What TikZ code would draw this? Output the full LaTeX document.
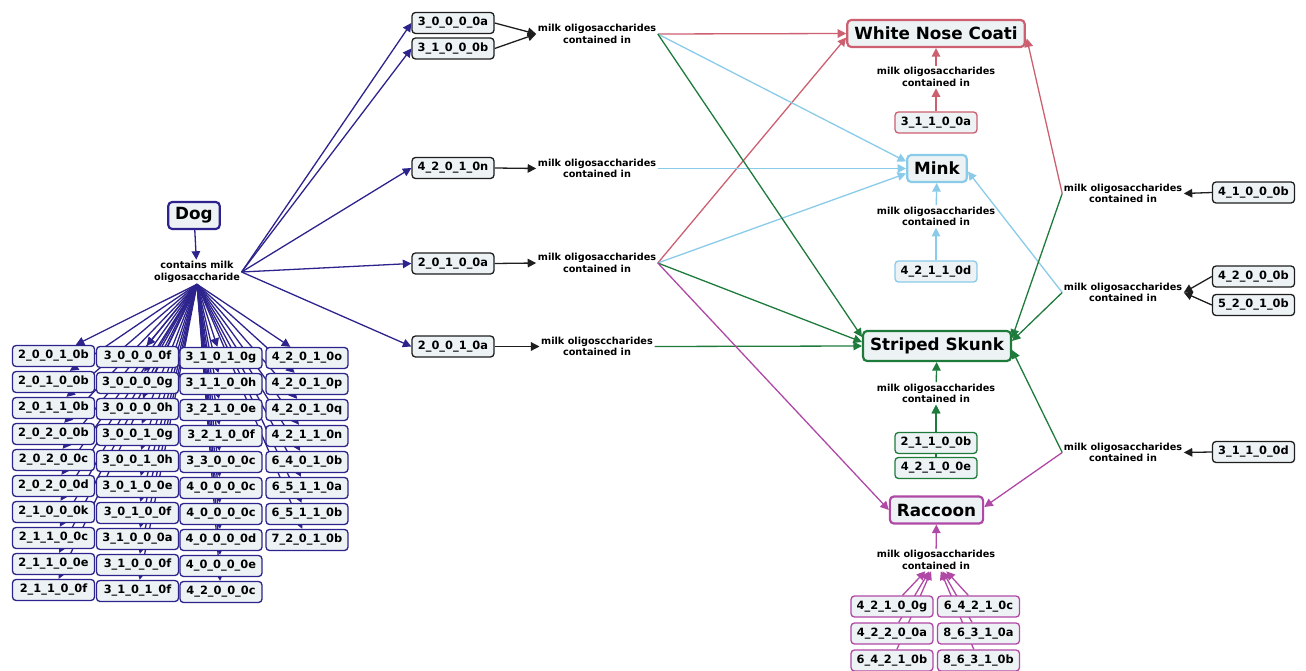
\documentclass[tikz,border=0pt]{standalone}
\usepackage{fontspec}
\setmainfont{DejaVu Sans}
\usetikzlibrary{arrows.meta,backgrounds,calc}
\definecolor{dogc}{RGB}{45,35,140}
\definecolor{pinkc}{RGB}{205,96,112}
\definecolor{bluec}{RGB}{138,203,234}
\definecolor{greenc}{RGB}{30,123,60}
\definecolor{purpc}{RGB}{176,72,165}
\definecolor{nodefill}{RGB}{237,242,244}
\definecolor{darkc}{RGB}{30,30,30}
\begin{document}
\begin{tikzpicture}[x=1pt,y=-1pt,
  box/.style={draw, rounded corners=3.5pt, fill=nodefill, line width=1.3pt, minimum width=82pt, minimum height=21pt, inner sep=0pt, font=\bfseries\fontsize{11.4}{12}\selectfont},
  lbl/.style={font=\bfseries\fontsize{9.7}{11.7}\selectfont, align=center, inner sep=1.5pt},
  animal/.style={draw, rounded corners=4pt, fill=nodefill, line width=2.2pt, inner xsep=7pt, inner ysep=0pt, minimum height=27pt, font=\bfseries\fontsize{16.8}{18}\selectfont},
  arr/.style={-{Triangle[length=8.5pt,width=8.5pt]}, line width=1.3pt}]
\useasboundingbox (0,0) rectangle (1306,671);

% Dog part
\node[animal, draw=dogc] (dog) at (194,215.5) {Dog};
\node[lbl] (contains) at (197,272) {contains milk\\oligosaccharide};

\foreach \t [count=\i] in {2\_0\_0\_1\_0b,2\_0\_1\_0\_0b,2\_0\_1\_1\_0b,2\_0\_2\_0\_0b,2\_0\_2\_0\_0c,2\_0\_2\_0\_0d,2\_1\_0\_0\_0k,2\_1\_1\_0\_0c,2\_1\_1\_0\_0e,2\_1\_1\_0\_0f}
  \node[box, draw=dogc] (a\i) at (53.5,{356+26*(\i-1)}) {\t};
\foreach \t [count=\i] in {3\_0\_0\_0\_0f,3\_0\_0\_0\_0g,3\_0\_0\_0\_0h,3\_0\_0\_1\_0g,3\_0\_0\_1\_0h,3\_0\_1\_0\_0e,3\_0\_1\_0\_0f,3\_1\_0\_0\_0a,3\_1\_0\_0\_0f,3\_1\_0\_1\_0f}
  \node[box, draw=dogc] (b\i) at (137.5,{357+26*(\i-1)}) {\t};
\foreach \t [count=\i] in {3\_1\_0\_1\_0g,3\_1\_1\_0\_0h,3\_2\_1\_0\_0e,3\_2\_1\_0\_0f,3\_3\_0\_0\_0c,4\_0\_0\_0\_0c,4\_0\_0\_0\_0c,4\_0\_0\_0\_0d,4\_0\_0\_0\_0e,4\_2\_0\_0\_0c}
  \node[box, draw=dogc] (c\i) at (221,{358+26*(\i-1)}) {\t};
\foreach \t [count=\i] in {4\_2\_0\_1\_0o,4\_2\_0\_1\_0p,4\_2\_0\_1\_0q,4\_2\_1\_1\_0n,6\_4\_0\_1\_0b,6\_5\_1\_1\_0a,6\_5\_1\_1\_0b,7\_2\_0\_1\_0b}
  \node[box, draw=dogc] (d\i) at (307,{358+26*(\i-1)}) {\t};

% middle column
\node[box, draw=darkc] (m1) at (453,23) {3\_0\_0\_0\_0a};
\node[box, draw=darkc] (m2) at (453,48.5) {3\_1\_0\_0\_0b};
\node[box, draw=darkc] (m3) at (453,168) {4\_2\_0\_1\_0n};
\node[box, draw=darkc] (m4) at (453,263.5) {2\_0\_1\_0\_0a};
\node[box, draw=darkc] (m5) at (453,346.5) {2\_0\_0\_1\_0a};
\node[lbl] (L1) at (597,34) {milk oligosaccharides\\contained in};
\node[lbl] (L2) at (597,168.5) {milk oligosaccharides\\contained in};
\node[lbl] (L3) at (597,263) {milk oligosaccharides\\contained in};
\node[lbl] (L4) at (597,346.5) {milk oligosccharides\\contained in};

% animals
\node[animal, draw=pinkc] (wnc) at (936,33.5) {White Nose Coati};
\node[animal, draw=bluec] (mink) at (937,168.5) {Mink};
\node[animal, draw=greenc, minimum height=30pt] (skunk) at (937,346) {Striped Skunk};
\node[animal, draw=purpc] (racc) at (936.5,510) {Raccoon};

\node[lbl] (wl) at (936,77) {milk oligosaccharides\\contained in};
\node[lbl] (ml) at (936,216.5) {milk oligosaccharides\\contained in};
\node[lbl] (sl) at (936,393.5) {milk oligosaccharides\\contained in};
\node[lbl] (rl) at (936,560) {milk oligosaccharides\\contained in};

\node[box, draw=pinkc] (w1) at (936,122.5) {3\_1\_1\_0\_0a};
\node[box, draw=bluec] (k1) at (936,271.5) {4\_2\_1\_1\_0d};
\node[box, draw=greenc] (s1) at (936,443) {2\_1\_1\_0\_0b};
\node[box, draw=greenc] (s2) at (936,468) {4\_2\_1\_0\_0e};
\node[box, draw=purpc] (r1) at (892,606.5) {4\_2\_1\_0\_0g};
\node[box, draw=purpc] (r2) at (892,633.5) {4\_2\_2\_0\_0a};
\node[box, draw=purpc] (r3) at (892,660.5) {6\_4\_2\_1\_0b};
\node[box, draw=purpc] (r4) at (978.5,606.5) {6\_4\_2\_1\_0c};
\node[box, draw=purpc] (r5) at (978.5,633.5) {8\_6\_3\_1\_0a};
\node[box, draw=purpc] (r6) at (978.5,660.5) {8\_6\_3\_1\_0b};

% right side
\node[lbl] (R1) at (1123,193.5) {milk oligosaccharides\\contained in};
\node[lbl] (R2) at (1123,292.5) {milk oligosaccharides\\contained in};
\node[lbl] (R3) at (1123,452.5) {milk oligosaccharides\\contained in};
\node[box, draw=darkc] (n1) at (1253.5,192.5) {4\_1\_0\_0\_0b};
\node[box, draw=darkc] (n2) at (1253.5,276.5) {4\_2\_0\_0\_0b};
\node[box, draw=darkc] (n3) at (1253.5,305) {5\_2\_0\_1\_0b};
\node[box, draw=darkc] (n4) at (1253.5,452) {3\_1\_1\_0\_0d};

\begin{pgfonlayer}{background}
  \draw[arr, dogc] (dog) -- (contains);
  \foreach \n in {a1,a2,a3,a4,a5,a6,a7,a8,a9,a10,b1,b2,b3,b4,b5,b6,b7,b8,b9,b10,c1,c2,c3,c4,c5,c6,c7,c8,c9,c10,d1,d2,d3,d4,d5,d6,d7,d8}
    \draw[arr, dogc] (contains.south) -- (\n);
  \foreach \n in {m1,m2,m3,m4,m5}
    \draw[arr, dogc] (contains.east) -- (\n.west);
  \draw[arr, darkc] (m1.east) -- (L1.west);
  \draw[arr, darkc] (m2.east) -- (L1.west);
  \draw[arr, darkc] (m3.east) -- (L2.west);
  \draw[arr, darkc] (m4.east) -- (L3.west);
  \draw[arr, darkc] (m5.east) -- (L4.west);
  % pink
  \draw[arr, pinkc] (L1.east) -- (wnc.west);
  \draw[arr, pinkc] (L3.east) -- ($(wnc.west)+(0,4)$);
  \draw[arr, pinkc] (R1.west) -- ($(wnc.east)+(1,5)$);
  \draw[arr, pinkc] (w1) -- (wl);
  \draw[arr, pinkc] (wl) -- (wnc);
  % blue
  \draw[arr, bluec] (L1.east) -- ($(mink.west)+(0,-7)$);
  \draw[arr, bluec] (L2.east) -- (mink.west);
  \draw[arr, bluec] (L3.east) -- ($(mink.west)+(0,5)$);
  \draw[arr, bluec] (R2.west) -- ($(mink.east)+(0,3)$);
  \draw[arr, bluec] (k1) -- (ml);
  \draw[arr, bluec] (ml) -- (mink);
  % green
  \draw[arr, greenc] (L1.east) -- ($(skunk.west)+(0,-9)$);
  \draw[arr, greenc] (L3.east) -- ($(skunk.west)+(0,-4)$);
  \draw[arr, greenc] (L4.east) -- (skunk.west);
  \draw[arr, greenc] (R1.west) -- ($(skunk.east)+(0,-8)$);
  \draw[arr, greenc] (R2.west) -- ($(skunk.east)+(0,-5)$);
  \draw[arr, greenc] (R3.west) -- ($(skunk.east)+(0,4)$);
  \draw[arr, greenc] (s1) -- (sl);
  \draw[arr, greenc] (s2) -- (sl);
  \draw[arr, greenc] (sl) -- (skunk);
  % purple
  \draw[arr, purpc] (L3.east) -- (racc.west);
  \draw[arr, purpc] (R3.west) -- ($(racc.east)+(0,-3)$);
  \draw[arr, purpc] (rl) -- (racc);
  \foreach \n in {r1,r2,r3,r4,r5,r6}
    \draw[arr, purpc] (\n) -- (rl);
  % black right
  \draw[arr, darkc] (n1.west) -- (R1.east);
  \draw[arr, darkc] (n2.west) -- (R2.east);
  \draw[arr, darkc] (n3.west) -- (R2.east);
  \draw[arr, darkc] (n4.west) -- (R3.east);
\end{pgfonlayer}
\end{tikzpicture}
\end{document}
